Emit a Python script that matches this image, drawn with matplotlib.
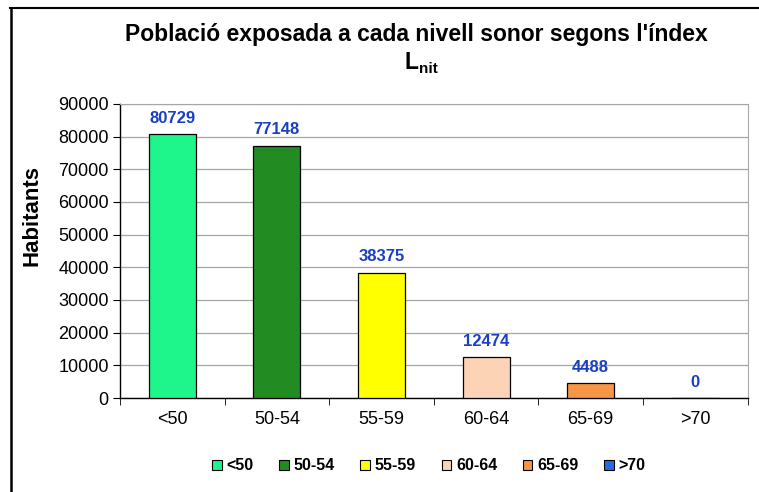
import matplotlib.pyplot as plt
from matplotlib.patches import Patch
from matplotlib.lines import Line2D

plt.rcParams['font.family'] = ['Liberation Sans', 'DejaVu Sans']

categories = ["<50", "50-54", "55-59", "60-64", "65-69", ">70"]
habitants = [80729, 77148, 38375, 12474, 4488, 0]
colors = ["#1ef58a", "#228b22", "#ffff00", "#fdd3b5", "#f79646", "#1f6fe0"]
yticks = [0, 10000, 20000, 30000, 40000, 50000, 60000, 70000, 80000, 90000]

fig = plt.figure(figsize=(7.59, 4.92), dpi=100)
ax = fig.add_axes([0.158, 0.191, 0.827, 0.598])

x = list(range(len(categories)))
ax.bar(x, habitants, width=0.45, color=colors, edgecolor="black", linewidth=0.9, zorder=3)

for xi, v in zip(x, habitants):
    ax.annotate(str(v), (xi, v), xytext=(0, 6), textcoords="offset points",
                ha="center", va="bottom", fontsize=12, fontweight="bold", color="#1a3fc4")

ax.set_xlim(-0.5, len(categories) - 0.5)
ax.set_ylim(0, 90000)
ax.set_yticks(yticks)
ax.set_yticklabels([str(t) for t in yticks], fontsize=13)
ax.set_xticks(x)
ax.set_xticklabels(categories, fontsize=13)
ax.tick_params(axis="x", length=0, pad=9)
ax.set_xticks([i - 0.5 for i in range(len(categories) + 1)], minor=True)
ax.tick_params(axis="x", which="minor", length=5, direction="out")
ax.tick_params(axis="y", length=5, direction="out", pad=3)

ax.grid(axis="y", color="#a6a6a6", linewidth=0.9, zorder=0)
for s in ["top", "right"]:
    ax.spines[s].set_color("#a6a6a6")
for s in ["left", "bottom"]:
    ax.spines[s].set_color("black")
    ax.spines[s].set_linewidth(1.0)

ax.set_ylabel("Habitants", fontsize=16, fontweight="bold", va="center")
ax.yaxis.set_label_coords(-0.14, 0.62)

fig.text(0.549, 0.93, "Població exposada a cada nivell sonor segons l'índex",
         ha="center", va="center", fontsize=16.5, fontweight="bold")
fig.text(0.552, 0.873, "L", ha="right", va="center", fontsize=16.5, fontweight="bold")
fig.text(0.552, 0.86, "nit", ha="left", va="center", fontsize=11, fontweight="bold")

handles = [Patch(facecolor=c, edgecolor="black", linewidth=0.8) for c in colors]
fig.legend(handles, categories, loc="center", bbox_to_anchor=(0.565, 0.053), ncol=6,
           frameon=False, prop={"size": 11.5, "weight": "bold"}, handlelength=0.6,
           handleheight=0.6, handletextpad=0.3, columnspacing=1.6)

# outer border (left and top edges visible)
fig.add_artist(Line2D([0.014, 0.014], [0.0, 0.984], color="black", linewidth=1.8, transform=fig.transFigure))
fig.add_artist(Line2D([0.013, 1.0], [0.984, 0.984], color="black", linewidth=1.5, transform=fig.transFigure))

fig.savefig("out.png", dpi=100)
